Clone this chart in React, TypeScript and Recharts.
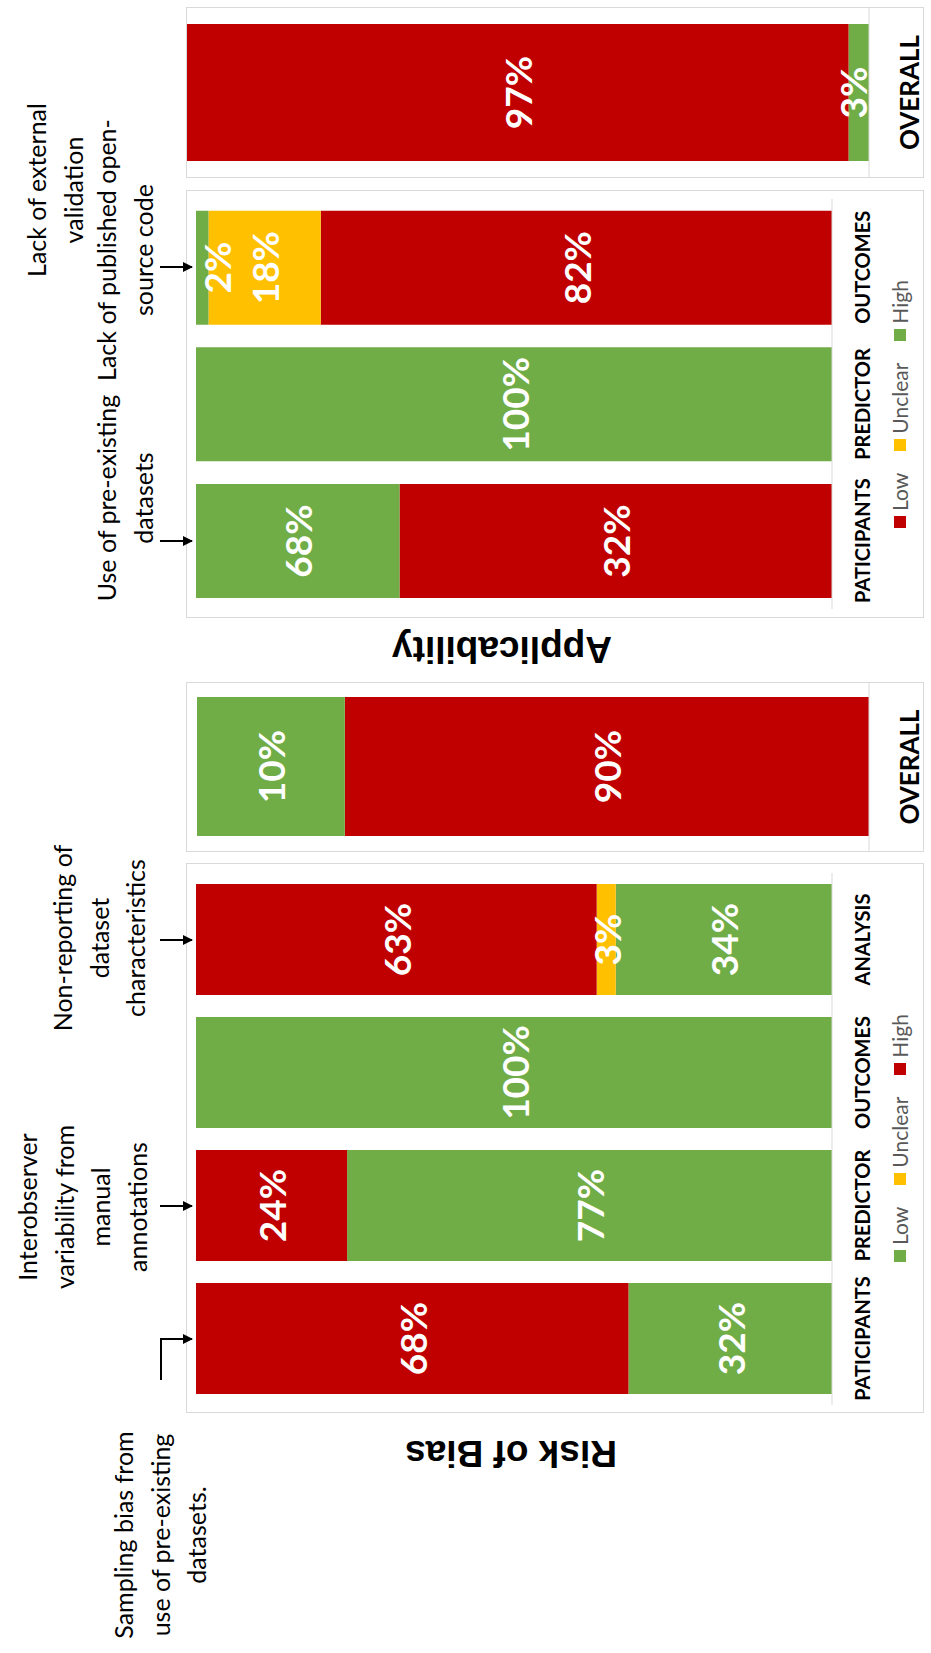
import React from 'react';
import { BarChart, Bar, XAxis, YAxis, LabelList, Legend } from 'recharts';

const RED = '#C00000';
const GREEN = '#70AD47';
const YELLOW = '#FFC000';
const BORDER = '#D9D9D9';

// Risk of Bias, per domain (segment sizes in %, printed labels)
const riskDomains = ['PATICIPANTS', 'PREDICTOR', 'OUTCOMES', 'ANALYSIS'];
const riskLow = [32, 77, 100, 34];
const riskUnclear = [0, 0, 0, 3];
const riskHigh = [68, 24, 0, 63];
const riskLowText = ['32%', '77%', '100%', '34%'];
const riskUnclearText = ['', '', '', '3%'];
const riskHighText = ['68%', '24%', '', '63%'];

// Risk of Bias, overall (segment sizes as drawn, labels as printed)
const riskOverallCategory = ['OVERALL'];
const riskOverallHigh = [78];
const riskOverallLow = [22];
const riskOverallHighText = ['90%'];
const riskOverallLowText = ['10%'];

// Applicability, per domain
const applDomains = ['PATICIPANTS', 'PREDICTOR', 'OUTCOMES'];
const applLow = [68, 0, 82];
const applUnclear = [0, 0, 18];
const applHigh = [32, 100, 2];
const applLowText = ['32%', '', '82%'];
const applUnclearText = ['', '', '18%'];
const applHighText = ['68%', '100%', '2%'];

// Applicability, overall
const applOverallCategory = ['OVERALL'];
const applOverallLow = [97];
const applOverallHigh = [3];
const applOverallLowText = ['97%'];
const applOverallHighText = ['3%'];

const legendOrder = ['Low', 'Unclear', 'High'];

const riskData = riskDomains.map((name, i) => ({
  name,
  low: riskLow[i],
  unclear: riskUnclear[i],
  high: riskHigh[i],
  lowText: riskLowText[i],
  unclearText: riskUnclearText[i],
  highText: riskHighText[i],
}));

const riskOverallData = riskOverallCategory.map((name, i) => ({
  name,
  high: riskOverallHigh[i],
  low: riskOverallLow[i],
  highText: riskOverallHighText[i],
  lowText: riskOverallLowText[i],
}));

const applData = applDomains.map((name, i) => ({
  name,
  low: applLow[i],
  unclear: applUnclear[i],
  high: applHigh[i],
  lowText: applLowText[i],
  unclearText: applUnclearText[i],
  highText: applHighText[i],
}));

const applOverallData = applOverallCategory.map((name, i) => ({
  name,
  low: applOverallLow[i],
  high: applOverallHigh[i],
  lowText: applOverallLowText[i],
  highText: applOverallHighText[i],
}));

// label centred on its segment, but kept inside the plot area
const makeLabel = (top: number, bottom: number) => (props: any) => {
  const { x, y, width, height, value } = props;
  if (!value) return null;
  let cy = Number(y) + Number(height) / 2;
  cy = Math.max(cy, top + 20);
  cy = Math.min(cy, bottom - 17);
  return (
    <text
      x={Number(x) + Number(width) / 2}
      y={cy}
      textAnchor="middle"
      dominantBaseline="central"
      fill="#fff"
      fontFamily="Lato"
      fontWeight={700}
      fontSize={37}
    >
      {value}
    </text>
  );
};

const makeTick = (offset: number, size: number) => (props: any) => {
  const { x, y, payload } = props;
  return (
    <text
      x={x}
      y={y + offset}
      textAnchor="middle"
      dominantBaseline="central"
      fill="#000"
      fontFamily="Lato"
      fontWeight={700}
      fontSize={size}
    >
      {payload.value}
    </text>
  );
};

const renderLegend = (colors: { [k: string]: string }) => (props: any) => {
  const items = [...(props.payload || [])].sort(
    (a: any, b: any) => legendOrder.indexOf(a.value) - legendOrder.indexOf(b.value)
  );
  return (
    <div
      style={{
        display: 'flex',
        justifyContent: 'center',
        alignItems: 'center',
        gap: 22,
        fontFamily: 'Lato',
        fontSize: 21,
        color: '#595959',
        lineHeight: '24px',
      }}
    >
      {items.map((p: any) => (
        <span key={p.value} style={{ display: 'flex', alignItems: 'center' }}>
          <span
            style={{
              display: 'inline-block',
              width: 12,
              height: 12,
              marginRight: 5,
              background: colors[p.value] || p.color,
            }}
          />
          {p.value}
        </span>
      ))}
    </div>
  );
};

const Panel: React.FC<{ left: number; width: number; children: React.ReactNode }> = ({ left, width, children }) => (
  <>
    <div
      style={{
        position: 'absolute',
        left,
        top: 186,
        width,
        height: 738,
        border: `1px solid ${BORDER}`,
        boxSizing: 'border-box',
      }}
    />
    <div style={{ position: 'absolute', left, top: 186 }}>{children}</div>
  </>
);

const notes = [
  { cx: 118, y: 133, lines: ['Sampling bias from', 'use of pre-existing', 'datasets.'] },
  { cx: 446, y: 37, lines: ['Interobserver', 'variability from', 'manual', 'annotations'] },
  { cx: 715, y: 72, lines: ['Non-reporting of', 'dataset', 'characteristics'] },
  { cx: 1463, y: 46, lines: ['Lack of external', 'validation'] },
  { cx: 1155, y: 116, lines: ['Use of pre-existing', 'datasets'] },
  { cx: 1403, y: 116, lines: ['Lack of published open-', 'source code'] },
];

const arrows = [
  'M273,161 L314,161 L314,192',
  'M447,160 L447,192',
  'M713,160 L713,192',
  'M1112,160 L1112,192',
  'M1386,160 L1386,192',
];

const riskColors = { Low: GREEN, Unclear: YELLOW, High: RED };
const applColors = { Low: RED, Unclear: YELLOW, High: GREEN };

export default function App() {
  return (
    <div
      style={{
        position: 'absolute',
        left: 0,
        top: 0,
        width: 931,
        height: 1653,
        overflow: 'hidden',
        background: '#fff',
      }}
    >
      <div
        style={{
          position: 'absolute',
          left: 0,
          top: 0,
          width: 1653,
          height: 931,
          transformOrigin: '0 0',
          transform: 'translateY(1653px) rotate(-90deg)',
        }}
      >
        {/* Risk of Bias: domains */}
        <Panel left={240} width={550}>
          <BarChart
            width={550}
            height={738}
            data={riskData}
            stackOffset="expand"
            barSize={111}
            margin={{ top: 10, right: 10, bottom: 0, left: 8 }}
          >
            <XAxis
              dataKey="name"
              interval={0}
              tickLine={false}
              tickSize={0}
              tickMargin={0}
              height={92}
              axisLine={{ stroke: BORDER }}
              tick={makeTick(30, 20)}
            />
            <YAxis hide type="number" domain={[0, 1]} />
            <Legend
              verticalAlign="middle"
              content={renderLegend(riskColors)}
              wrapperStyle={{ left: 0, top: 702, width: 550 }}
            />
            <Bar dataKey="low" name="Low" stackId="r" fill={GREEN} isAnimationActive={false}>
              <LabelList dataKey="lowText" content={makeLabel(10, 646)} />
            </Bar>
            <Bar dataKey="unclear" name="Unclear" stackId="r" fill={YELLOW} isAnimationActive={false}>
              <LabelList dataKey="unclearText" content={makeLabel(10, 646)} />
            </Bar>
            <Bar dataKey="high" name="High" stackId="r" fill={RED} isAnimationActive={false}>
              <LabelList dataKey="highText" content={makeLabel(10, 646)} />
            </Bar>
          </BarChart>
        </Panel>

        {/* Risk of Bias: overall */}
        <Panel left={801} width={170}>
          <BarChart
            width={170}
            height={738}
            data={riskOverallData}
            stackOffset="expand"
            barSize={139}
            margin={{ top: 11, right: 0, bottom: 0, left: 0 }}
          >
            <XAxis
              dataKey="name"
              interval={0}
              tickLine={false}
              tickSize={0}
              tickMargin={0}
              height={55}
              axisLine={{ stroke: BORDER }}
              tick={makeTick(40, 26)}
            />
            <YAxis hide type="number" domain={[0, 1]} />
            <Bar dataKey="high" name="High" stackId="ro" fill={RED} isAnimationActive={false}>
              <LabelList dataKey="highText" content={makeLabel(11, 683)} />
            </Bar>
            <Bar dataKey="low" name="Low" stackId="ro" fill={GREEN} isAnimationActive={false}>
              <LabelList dataKey="lowText" content={makeLabel(11, 683)} />
            </Bar>
          </BarChart>
        </Panel>

        {/* Applicability: domains */}
        <Panel left={1035} width={428}>
          <BarChart
            width={428}
            height={738}
            data={applData}
            stackOffset="expand"
            barSize={114}
            margin={{ top: 10, right: 9, bottom: 0, left: 9 }}
          >
            <XAxis
              dataKey="name"
              interval={0}
              tickLine={false}
              tickSize={0}
              tickMargin={0}
              height={92}
              axisLine={{ stroke: BORDER }}
              tick={makeTick(30, 20)}
            />
            <YAxis hide type="number" domain={[0, 1]} />
            <Legend
              verticalAlign="middle"
              content={renderLegend(applColors)}
              wrapperStyle={{ left: 0, top: 702, width: 428 }}
            />
            <Bar dataKey="low" name="Low" stackId="a" fill={RED} isAnimationActive={false}>
              <LabelList dataKey="lowText" content={makeLabel(10, 646)} />
            </Bar>
            <Bar dataKey="unclear" name="Unclear" stackId="a" fill={YELLOW} isAnimationActive={false}>
              <LabelList dataKey="unclearText" content={makeLabel(10, 646)} />
            </Bar>
            <Bar dataKey="high" name="High" stackId="a" fill={GREEN} isAnimationActive={false}>
              <LabelList dataKey="highText" content={makeLabel(10, 646)} />
            </Bar>
          </BarChart>
        </Panel>

        {/* Applicability: overall */}
        <Panel left={1475} width={171}>
          <BarChart
            width={171}
            height={738}
            data={applOverallData}
            stackOffset="expand"
            barSize={137}
            margin={{ top: 1, right: 0, bottom: 0, left: 0 }}
          >
            <XAxis
              dataKey="name"
              interval={0}
              tickLine={false}
              tickSize={0}
              tickMargin={0}
              height={55}
              axisLine={{ stroke: BORDER }}
              tick={makeTick(40, 26)}
            />
            <YAxis hide type="number" domain={[0, 1]} />
            <Bar dataKey="high" name="High" stackId="ao" fill={GREEN} isAnimationActive={false}>
              <LabelList dataKey="highText" content={makeLabel(1, 683)} />
            </Bar>
            <Bar dataKey="low" name="Low" stackId="ao" fill={RED} isAnimationActive={false}>
              <LabelList dataKey="lowText" content={makeLabel(1, 683)} />
            </Bar>
          </BarChart>
        </Panel>

        {/* annotations, arrows and panel titles */}
        <svg
          width={1653}
          height={931}
          style={{ position: 'absolute', left: 0, top: 0, pointerEvents: 'none' }}
        >
          <defs>
            <marker
              id="head"
              markerWidth={10}
              markerHeight={10}
              refX={9}
              refY={5}
              orient="auto"
              markerUnits="userSpaceOnUse"
            >
              <path d="M0,0 L10,5 L0,10 z" fill="#000" />
            </marker>
          </defs>
          {arrows.map((d) => (
            <path key={d} d={d} fill="none" stroke="#000" strokeWidth={2} markerEnd="url(#head)" />
          ))}
          {notes.map((n) => (
            <text key={n.cx} textAnchor="middle" fontFamily="Lato" fontSize={25} fill="#000">
              {n.lines.map((l, i) => (
                <tspan key={l} x={n.cx} y={n.y + i * 36.5}>
                  {l}
                </tspan>
              ))}
            </text>
          ))}
          <text
            x={212}
            y={511}
            transform="rotate(-90 212 511)"
            textAnchor="middle"
            fontFamily="Liberation Sans"
            fontWeight={700}
            fontSize={37}
            fill="#000"
          >
            Risk of Bias
          </text>
          <text
            x={1016}
            y={502}
            transform="rotate(-90 1016 502)"
            textAnchor="middle"
            fontFamily="Liberation Sans"
            fontWeight={700}
            fontSize={37}
            fill="#000"
          >
            Applicability
          </text>
        </svg>
      </div>
    </div>
  );
}
